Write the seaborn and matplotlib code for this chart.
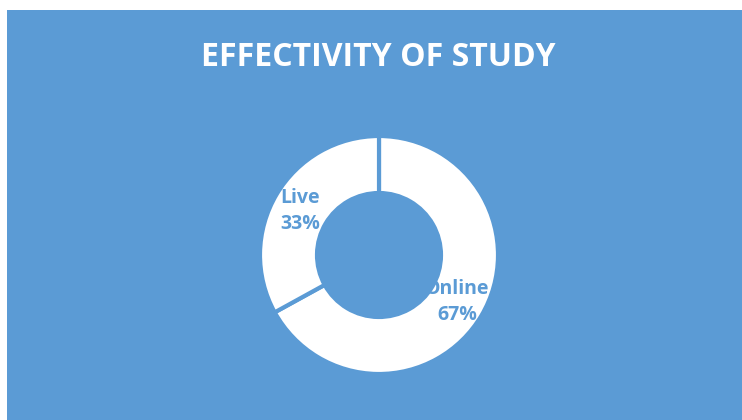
import numpy as np
import matplotlib
matplotlib.use("Agg")
import matplotlib.pyplot as plt
import seaborn as sns
from matplotlib.patches import Rectangle

# =========================================
# DADOS
# =========================================

categorias = ["Online", "Live"]
valores = [67, 33]
titulo = "EFFECTIVITY OF STUDY"

# =========================================
# ESTILO
# =========================================

sns.set_theme(style="white")
plt.rcParams['font.family'] = ['Open Sans', 'DejaVu Sans']

azul = "#5B9BD5"

fig = plt.figure(figsize=(7.42, 4.2), dpi=100)
fig.patch.set_facecolor("white")

# fundo azul (com pequena margem branca em cima e a esquerda)
fig.patches.append(Rectangle(
    (7 / 742, 0), 735 / 742, 410 / 420,
    transform=fig.transFigure, facecolor=azul, edgecolor="none", zorder=-10
))

fig.text(
    378 / 742, 1 - 58 / 420, titulo,
    ha="center", va="center", color="white",
    fontsize=23, fontweight="bold"
)

# =========================================
# DONUT
# =========================================

ax = fig.add_axes([(379 - 120) / 742, (420 - 255 - 120) / 420, 240 / 742, 240 / 420])
ax.set_facecolor("none")
ax.set_zorder(5)

cores = ["white", "white"]

wedges, _ = ax.pie(
    valores,
    colors=cores,
    startangle=90,
    counterclock=False,
    radius=119 / 120,
    wedgeprops=dict(width=(119 - 62) / 120, edgecolor=azul, linewidth=3),
)

ax.set_xlim(-1, 1)
ax.set_ylim(-1, 1)
ax.set_aspect("equal")
ax.axis("off")

# rótulos
posicoes = {"Online": (457, 302), "Live": (300, 211)}
total = sum(valores)
for cat, val in zip(categorias, valores):
    px, py = posicoes[cat]
    x = (px - 379) / 120
    y = (255 - py) / 120
    ax.text(
        x, y, f"{cat}\n{round(100 * val / total)}%",
        ha="center", va="center", color=azul,
        fontsize=14, fontweight="bold", linespacing=1.45
    )

fig.savefig("out.png", dpi=100, facecolor=fig.get_facecolor())
